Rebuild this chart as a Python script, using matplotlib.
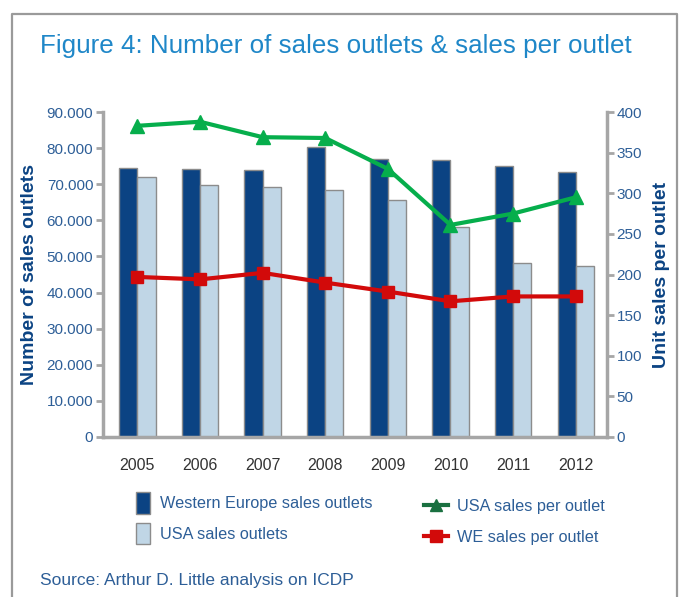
#!/usr/bin/env python
# -*- coding: utf-8 -*-

import numpy as np
import matplotlib
matplotlib.use("Agg")
from matplotlib import pyplot as plt
from matplotlib.lines import Line2D
from matplotlib.patches import Patch
from matplotlib.ticker import FuncFormatter

years = ["2005", "2006", "2007", "2008", "2009", "2010", "2011", "2012"]
we_outlets = [74500, 74300, 73900, 80300, 76900, 76600, 75100, 73300]
usa_outlets = [71900, 69900, 69300, 68400, 65600, 58200, 48100, 47300]
usa_per_outlet = [383, 388, 369, 368, 330, 261, 275, 295]
we_per_outlet = [197, 194, 202, 190, 179, 167, 173, 173]

TITLE_BLUE = "#1f87c8"
TEXT_BLUE = "#2d5e97"
DARK_BLUE = "#0b4383"
LIGHT_BLUE = "#c0d6e6"
GREEN = "#06ae4c"
RED = "#d20a0a"
GREY = "#a6a6a6"

plt.rcParams["font.family"] = ["Liberation Sans", "DejaVu Sans"]

fig = plt.figure(figsize=(6.8, 5.97), dpi=100)

# outer frame (open at the bottom)
fig.add_artist(Line2D([12 / 680, 12 / 680, 677 / 680, 677 / 680],
                      [0, 1 - 14 / 597, 1 - 14 / 597, 0],
                      transform=fig.transFigure, color="#9a9a9a", lw=1.6))

fig.text(40 / 680, 1 - 46 / 597, "Figure 4: Number of sales outlets & sales per outlet",
         color=TITLE_BLUE, fontsize=18.7, va="center", ha="left")

ax = fig.add_axes([103 / 680, 1 - 437 / 597, 504 / 680, 325 / 597])
x = np.arange(len(years))
w = 0.29
ax.bar(x - w, we_outlets, w, align="edge", color=DARK_BLUE, edgecolor="#8c8c8c", linewidth=1)
ax.bar(x, usa_outlets, w, align="edge", color=LIGHT_BLUE, edgecolor="#8c8c8c", linewidth=1)
ax.set_xlim(-0.55, 7.5)
ax.set_ylim(0, 90000)
ax.set_yticks(np.arange(0, 90001, 10000))
ax.yaxis.set_major_formatter(FuncFormatter(lambda v, p: "0" if v == 0 else "{:,.0f}".format(v).replace(",", ".")))
ax.set_xticks(x)
ax.set_xticklabels(years)

ax2 = ax.twinx()
ax2.plot(x, usa_per_outlet, color=GREEN, lw=3, marker="^", markersize=10, zorder=5)
ax2.plot(x, we_per_outlet, color=RED, lw=3, marker="s", markersize=9, zorder=5)
ax2.set_ylim(0, 400)
ax2.set_yticks(np.arange(0, 401, 50))

for a in (ax, ax2):
    for s in a.spines.values():
        s.set_visible(False)
    a.tick_params(axis="y", colors=GREY, labelcolor=TEXT_BLUE, labelsize=11, length=5, width=2, pad=2)
ax.spines["left"].set_visible(True)
ax.spines["bottom"].set_visible(True)
ax2.spines["right"].set_visible(True)
for s in (ax.spines["left"], ax.spines["bottom"], ax2.spines["right"]):
    s.set_color(GREY)
    s.set_linewidth(2.5)
ax.tick_params(axis="x", length=0, labelsize=11.5, labelcolor="#333333", pad=15)

ax.set_ylabel("Number of sales outlets", color=DARK_BLUE, fontsize=14, fontweight="bold", labelpad=6)
ax2.set_ylabel("Unit sales per outlet", color=DARK_BLUE, fontsize=14, fontweight="bold", labelpad=8)

h1 = [Patch(facecolor=DARK_BLUE, edgecolor="#8c8c8c", label="Western Europe sales outlets"),
      Patch(facecolor=LIGHT_BLUE, edgecolor="#8c8c8c", label="USA sales outlets")]
fig.legend(handles=h1, loc="upper left", bbox_to_anchor=(121 / 680, 1 - 477 / 597),
           frameon=False, fontsize=11.7, labelcolor=TEXT_BLUE, handlelength=0.9,
           handleheight=1.7, labelspacing=0.55, handletextpad=0.6)
h2 = [Line2D([], [], color="#1a7040", lw=3, marker="^", markersize=9, label="USA sales per outlet"),
      Line2D([], [], color=RED, lw=3, marker="s", markersize=8, label="WE sales per outlet")]
fig.legend(handles=h2, loc="upper left", bbox_to_anchor=(409 / 680, 1 - 484 / 597),
           frameon=False, fontsize=11.7, labelcolor=TEXT_BLUE, handlelength=1.5,
           labelspacing=1.0, handletextpad=0.55)

fig.text(40 / 680, 1 - 581 / 597, "Source: Arthur D. Little analysis on ICDP",
         color=TEXT_BLUE, fontsize=12.5, va="center", ha="left")

plt.savefig("out.png", dpi=100)
